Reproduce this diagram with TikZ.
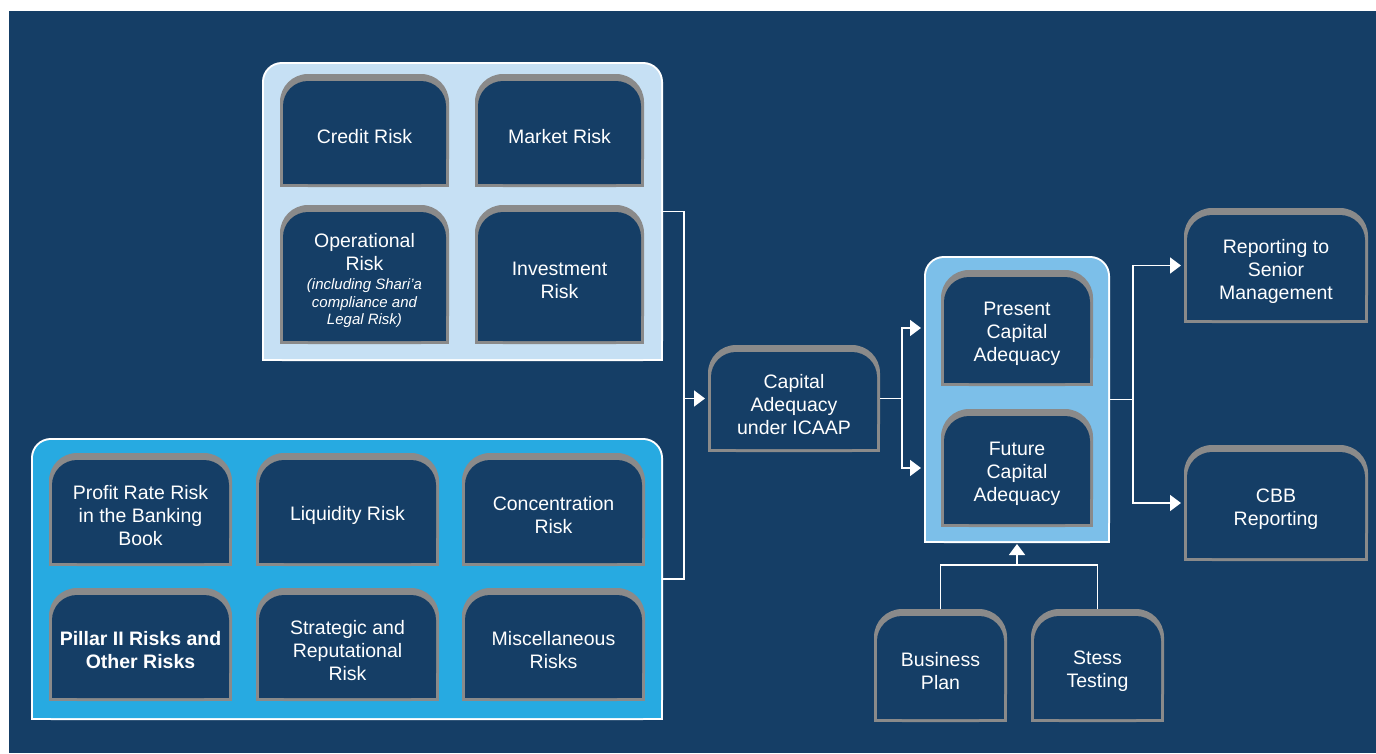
\documentclass[tikz,border=0pt]{standalone}
\usepackage{fontspec}
\setmainfont{Liberation Sans}
\usetikzlibrary{positioning,arrows.meta}
\definecolor{navy}{HTML}{153E66}
\definecolor{tabgray}{HTML}{8A8A8A}
\definecolor{paleblue}{HTML}{C6E0F4}
\definecolor{skyblue}{HTML}{27AAE1}
\definecolor{midblue}{HTML}{7CBFE9}
\newcommand{\smallit}{\itshape\fontsize{15}{17.5}\selectfont}
\tikzset{
  tab node/.style={outer sep=0pt,inner sep=0pt,text=white,align=flush center,text width=125pt,
    font=\fontsize{19.5}{23}\selectfont,
    execute at begin node={\rule{0pt}{26pt}},
    path picture={
      \fill[tabgray,rounded corners=28pt] (path picture bounding box.south west) rectangle (path picture bounding box.north east);
      \fill[tabgray] (path picture bounding box.south west) rectangle (path picture bounding box.east);
      \fill[navy,rounded corners=25pt] ([shift={(3pt,3pt)}]path picture bounding box.south west) rectangle ([shift={(-3pt,-7pt)}]path picture bounding box.north east);
      \fill[navy] ([shift={(3pt,3pt)}]path picture bounding box.south west) rectangle ([xshift=-3pt]path picture bounding box.east);
    }},
  group node/.style={outer sep=0pt,inner sep=0pt,
    path picture={
      \fill[white,rounded corners=20pt] (path picture bounding box.south west) rectangle (path picture bounding box.north east);
      \fill[white] (path picture bounding box.south west) rectangle (path picture bounding box.east);
      \fill[#1,rounded corners=18pt] ([shift={(2pt,2pt)}]path picture bounding box.south west) rectangle ([shift={(-2pt,-2pt)}]path picture bounding box.north east);
      \fill[#1] ([shift={(2pt,2pt)}]path picture bounding box.south west) rectangle ([xshift=-2pt]path picture bounding box.east);
    }},
  link/.style={draw=white,line width=1.6pt},
  arrow/.style={link,-{Triangle[length=11pt,width=16pt]},shorten >=3pt},
}

\begin{document}
\begin{tikzpicture}[x=1pt,y=-1pt]
    \useasboundingbox[fill=white] (0,0) rectangle (1376,753);
    \fill[navy] (9,11) rectangle (1376,753);

    % the three coloured panels
    \node[group node=paleblue,minimum width=401pt,minimum height=299pt] (top) at (462.5,211.5) {};
    \node[group node=skyblue,minimum width=632pt,minimum height=282pt] (bottom) at (347,579) {};
    \node[group node=midblue,minimum width=186pt,minimum height=287pt] (mid) at (1017,399.5) {};

    % risks in the upper panel
    \begin{scope}[every node/.style={tab node,minimum width=169pt,minimum height=113pt}]
    \node (1) at (364.5,130.5) {Credit Risk};
    \node (2) [right = 26pt of 1] {Market Risk};
    \node[minimum height=139pt] (3) [below = 18pt of 1] {Operational\\Risk\\[-4pt]
      {\smallit (including Shari’a}\\[-5pt]{\smallit compliance and}\\[-5.5pt]{\smallit Legal Risk)}};
    \node[minimum height=139pt] (4) [right = 26pt of 3] {Investment\\Risk};
    \end{scope}

    % risks in the lower panel
    \begin{scope}[every node/.style={tab node,text width=175pt,minimum width=183pt,minimum height=113pt}]
    \node (5) at (140.5,509.5) {Profit Rate Risk\\in the Banking\\Book};
    \node (6) [right = 24pt of 5] {Liquidity Risk};
    \node (7) [right = 23pt of 6] {Concentration\\Risk};
    \node[font=\fontsize{19.5}{23}\selectfont\bfseries] (8) [below = 22pt of 5] {Pillar II Risks and\\Other Risks};
    \node (9) [right = 24pt of 8] {Strategic and\\Reputational\\Risk};
    \node (10) [right = 23pt of 9] {Miscellaneous\\Risks};
    \end{scope}

    \node[tab node,minimum width=172pt,minimum height=107pt] (11) at (794,398.5) {Capital\\Adequacy\\under ICAAP};

    \node[tab node,minimum width=152pt,minimum height=116pt] (12) at (1017,328) {Present\\Capital\\Adequacy};
    \node[tab node,minimum width=152pt,minimum height=118pt] (13) [below = 23pt of 12] {Future\\Capital\\Adequacy};

    \node[tab node,minimum width=184pt,minimum height=115pt] (14) at (1276,265.5) {Reporting to\\Senior\\Management};
    \node[tab node,minimum width=184pt,minimum height=116pt] (15) at (1276,503) {CBB\\Reporting};

    \node[tab node,minimum width=133pt,minimum height=113pt] (16) at (940.5,665.5) {Business\\Plan};
    \node[tab node,minimum width=133pt,minimum height=113pt] (17) [right = 24pt of 16] {Stess\\Testing};

    % connectors
    \coordinate (a) at ([xshift=21pt]top.east |- 11.west);
    \coordinate (b) at ([xshift=22pt]11.east);
    \coordinate (c) at ([xshift=23pt]mid.east);
    \coordinate (d) at ([yshift=-22pt]mid.south);

    \draw[link] (top.east) -| (a) |- (bottom.east);
    \draw[arrow] (a) -- (11);

    \draw[link] (11) -- (b);
    \draw[arrow] (b) |- (mid.west |- 12);
    \draw[arrow] (b) |- (mid.west |- 13);

    \draw[link] (mid) -- (c);
    \draw[arrow] (c) |- (14);
    \draw[arrow] (c) |- (15);

    \draw[link] (16) |- (d) -| (17);
    \draw[arrow,shorten >=1pt] (d) -- (mid);
\end{tikzpicture}
\end{document}
